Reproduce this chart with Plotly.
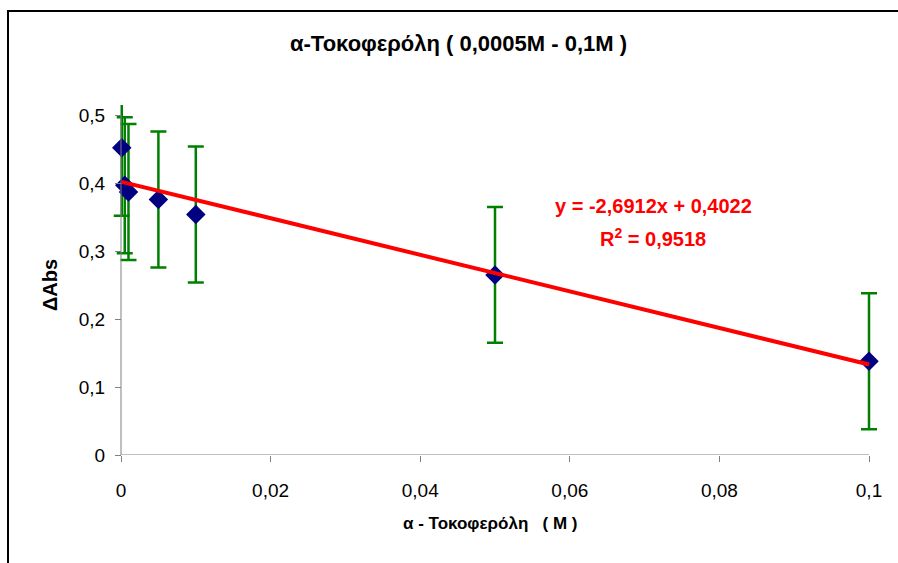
import plotly.graph_objects as go

# α-tocopherol concentration (M) and measured ΔAbs
concentration = [0.0001, 0.0005, 0.001, 0.005, 0.01, 0.05, 0.1]
delta_abs = [0.452, 0.397, 0.387, 0.376, 0.354, 0.265, 0.138]
error = [0.1, 0.1, 0.1, 0.1, 0.1, 0.1, 0.1]

# Linear trendline parameters
slope = -2.6912
intercept = 0.4022
r_squared = 0.9518

x_ticks = [0, 0.02, 0.04, 0.06, 0.08, 0.1]
x_tick_labels = ["0", "0,02", "0,04", "0,06", "0,08", "0,1"]
y_ticks = [0, 0.1, 0.2, 0.3, 0.4, 0.5]
y_tick_labels = ["0", "0,1", "0,2", "0,3", "0,4", "0,5"]

FONT = "Liberation Sans, Arial, sans-serif"
W, H = 898, 563
AX_L, AX_R = 121, 869          # pixel span of the 0 .. 0.1 axis
PAD = 12                       # extra room at each side for caps / markers
L, R, T, B = AX_L - PAD, W - AX_R - PAD, 105, 108
pw, ph = W - L - R, H - T - B
x_pad = 0.1 * PAD / (AX_R - AX_L)


def px_x(p):
    return (p - L) / pw


def px_y(p):
    return (H - B - p) / ph


fig = go.Figure()

# error bars (clipped at the top of the plot area)
fig.add_trace(go.Scatter(
    x=concentration, y=delta_abs, mode="markers",
    marker=dict(size=1, opacity=0),
    error_y=dict(type="data", array=error, visible=True,
                 color="#008000", thickness=2.5, width=8),
    cliponaxis=True, showlegend=False, hoverinfo="skip",
))

# data markers
fig.add_trace(go.Scatter(
    x=concentration, y=delta_abs, mode="markers",
    marker=dict(symbol="diamond", size=15, color="#000080",
                line=dict(width=0)),
    cliponaxis=False, showlegend=False,
))

# trendline
x0, x1 = min(concentration), max(concentration)
fig.add_trace(go.Scatter(
    x=[x0, x1], y=[intercept + slope * x0, intercept + slope * x1],
    mode="lines", line=dict(color="#FF0000", width=4),
    cliponaxis=False, showlegend=False,
))

axis_common = dict(
    showgrid=False, zeroline=False, showline=False, ticks="outside",
    ticklen=6, tickcolor="#808080", tickwidth=1,
    tickfont=dict(family=FONT, size=19, color="#000000"),
)

fig.update_xaxes(
    range=[-x_pad, 0.1 + x_pad], tickvals=x_ticks, ticktext=x_tick_labels,
    ticklabelstandoff=12, **axis_common,
)
fig.update_yaxes(
    range=[0, 0.515], tickvals=y_ticks, ticktext=y_tick_labels,
    anchor="free", position=PAD / pw, ticklabelstandoff=6, **axis_common,
)

shapes = [
    # x axis line
    dict(type="line", xref="x", yref="y", x0=0, x1=0.1, y0=0, y1=0,
         line=dict(color="#808080", width=1)),
    # y axis line up to the last tick
    dict(type="line", xref="x", yref="y", x0=0, x1=0, y0=0, y1=0.5,
         line=dict(color="#808080", width=1)),
    # chart frame
    dict(type="path", xref="paper", yref="paper",
         path=f"M {px_x(8)} {px_y(570)} L {px_x(8)} {px_y(11)} L {px_x(905)} {px_y(11)}",
         line=dict(color="#000000", width=2)),
]

annotations = [
    dict(text="α-Τοκοφερόλη ( 0,0005M - 0,1M )", xref="paper", yref="paper",
         x=px_x(458), y=px_y(43), xanchor="center", yanchor="middle",
         showarrow=False,
         font=dict(family=FONT, size=22, color="#000000", weight="bold")),
    dict(text="α - Τοκοφερόλη   ( M )", xref="paper", yref="paper",
         x=px_x(490), y=px_y(523), xanchor="center", yanchor="middle",
         showarrow=False,
         font=dict(family=FONT, size=17, color="#000000", weight="bold")),
    dict(text="ΔAbs", xref="paper", yref="paper", textangle=-90,
         x=px_x(50), y=px_y(285), xanchor="center", yanchor="middle",
         showarrow=False,
         font=dict(family=FONT, size=20, color="#000000", weight="bold")),
    dict(text=f"y = {slope:.4f}x + {intercept:.4f}".replace(".", ","),
         xref="paper", yref="paper", x=px_x(653), y=px_y(206),
         xanchor="center", yanchor="middle", showarrow=False,
         font=dict(family=FONT, size=20, color="#FF0000", weight="bold")),
    dict(text=f"R<sup>2</sup> = {r_squared:.4f}".replace(".", ","),
         xref="paper", yref="paper", x=px_x(653), y=px_y(237),
         xanchor="center", yanchor="middle", showarrow=False,
         font=dict(family=FONT, size=20, color="#FF0000", weight="bold")),
]

fig.update_layout(
    width=W, height=H,
    margin=dict(l=L, r=R, t=T, b=B),
    paper_bgcolor="#FFFFFF", plot_bgcolor="#FFFFFF",
    shapes=shapes, annotations=annotations, showlegend=False,
)

fig.write_html("out.html")
